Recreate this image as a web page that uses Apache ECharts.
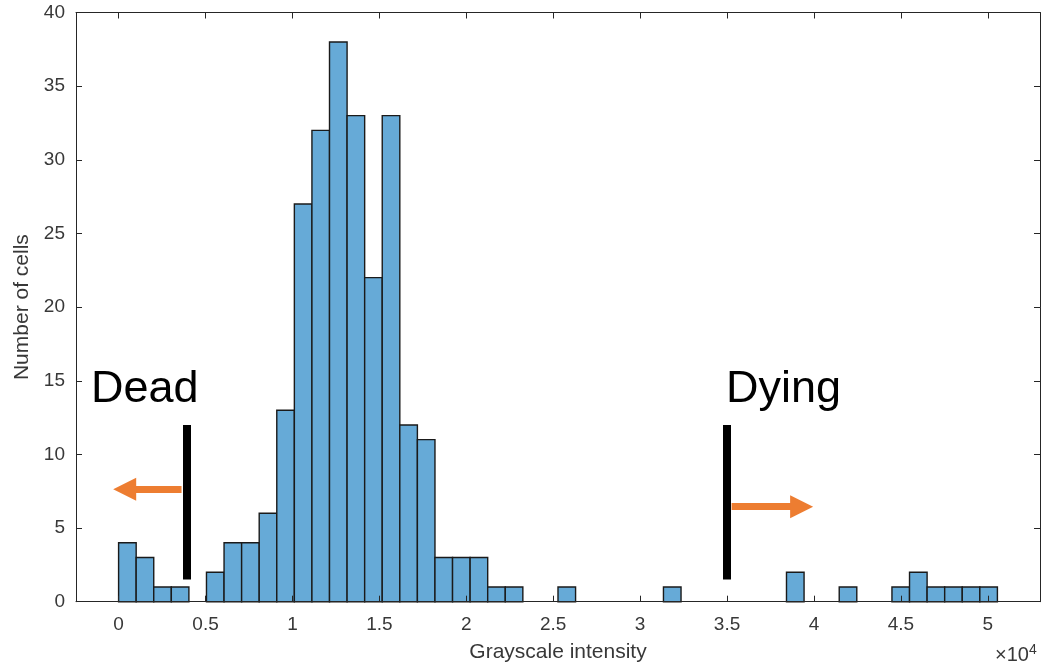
<!DOCTYPE html>
<html>
<head>
<meta charset="utf-8">
<script src="https://cdn.jsdelivr.net/npm/echarts@6/dist/echarts.min.js"></script>
<style>
  html, body { margin: 0; padding: 0; background: #fff; }
  #chart { width: 1044px; height: 671px; }
</style>
</head>
<body>
<div id="chart"></div>
<script>
// histogram data (bin counts, equal width bins starting at 0)
const binStart = 0
const binWidth = 1011
const counts = [
  4, 3, 1, 1, 0, 2, 4, 4, 6, 13,
  27, 32, 38, 33, 22, 33, 12, 11, 3, 3,
  3, 1, 1, 0, 0, 1, 0, 0, 0, 0,
  0, 1, 0, 0, 0, 0, 0, 0, 2, 0,
  0, 1, 0, 0, 1, 2, 1, 1, 1, 1
]
const xTicks = [0, 5000, 10000, 15000, 20000, 25000, 30000, 35000, 40000, 45000, 50000]
const yTicks = [0, 5, 10, 15, 20, 25, 30, 35, 40]

// threshold annotations
const deadX = 3930
const dyingX = 35000
const markerY = [1.5, 12]
const deadArrow = [[3620, 7.63], [350, 7.63]]
const dyingArrow = [[35260, 6.45], [39290, 6.45]]

const chart = echarts.init(document.getElementById('chart'))

const bins = []
counts.forEach((c, i) => {
  if (c > 0) bins.push([binStart + i * binWidth, binStart + (i + 1) * binWidth, c])
})

const axisColor = '#262626'
const labelColor = '#383838'
const font = 'Liberation Sans, Arial, Helvetica, sans-serif'

const tickStyle = { show: true, inside: true, length: 6, lineStyle: { color: axisColor, width: 1 } }

const option = {
  animation: false,
  grid: { left: 76, right: 4, top: 12.5, bottom: 69.3, containLabel: false },
  xAxis: [
    {
      type: 'value', min: -2450, max: 53000, z: 5,
      name: 'Grayscale intensity', nameLocation: 'middle', nameGap: 40,
      nameTextStyle: { color: labelColor, fontSize: 21, fontFamily: font },
      axisLine: { show: true, onZero: false, lineStyle: { color: axisColor, width: 1 } },
      axisTick: Object.assign({ customValues: xTicks }, tickStyle),
      axisLabel: {
        customValues: xTicks, margin: 14, color: labelColor, fontSize: 19, fontFamily: font,
        formatter: v => String(v / 10000)
      },
      splitLine: { show: false }
    },
    {
      type: 'value', min: -2450, max: 53000, position: 'top', z: 5,
      axisLine: { show: true, onZero: false, lineStyle: { color: axisColor, width: 1 } },
      axisTick: Object.assign({ customValues: xTicks }, tickStyle),
      axisLabel: { show: false },
      splitLine: { show: false }
    }
  ],
  yAxis: [
    {
      type: 'value', min: 0, max: 40, interval: 5, z: 5,
      name: 'Number of cells', nameLocation: 'middle', nameGap: 39,
      nameTextStyle: { color: labelColor, fontSize: 21, fontFamily: font },
      axisLine: { show: true, onZero: false, lineStyle: { color: axisColor, width: 1 } },
      axisTick: tickStyle,
      axisLabel: { margin: 11, color: labelColor, fontSize: 19, fontFamily: font },
      splitLine: { show: false }
    },
    {
      type: 'value', min: 0, max: 40, interval: 5, position: 'right', z: 5,
      axisLine: { show: true, onZero: false, lineStyle: { color: axisColor, width: 1 } },
      axisTick: tickStyle,
      axisLabel: { show: false },
      splitLine: { show: false }
    }
  ],
  series: [
    {
      type: 'custom',
      data: bins,
      encode: { x: [0, 1], y: 2 },
      renderItem: (params, api) => {
        const p0 = api.coord([api.value(0), api.value(2)])
        const p1 = api.coord([api.value(1), 0])
        return {
          type: 'rect',
          shape: { x: p0[0], y: p0[1], width: p1[0] - p0[0], height: p1[1] - p0[1] },
          style: { fill: '#66AAD7', stroke: '#1a1a1a', lineWidth: 1.4 }
        }
      }
    },
    {
      type: 'line',
      data: [],
      z: 6,
      markLine: {
        silent: true,
        animation: false,
        label: { show: false },
        emphasis: { disabled: true },
        data: [
          [{ coord: [deadX, markerY[0]], symbol: 'none', lineStyle: { color: '#000', width: 8, type: 'solid' } },
           { coord: [deadX, markerY[1]], symbol: 'none' }],
          [{ coord: [dyingX, markerY[0]], symbol: 'none', lineStyle: { color: '#000', width: 8, type: 'solid' } },
           { coord: [dyingX, markerY[1]], symbol: 'none' }],
          [{ coord: deadArrow[0], symbol: 'none', lineStyle: { color: '#ED7D31', width: 7, type: 'solid' } },
           { coord: deadArrow[1], symbol: 'triangle', symbolSize: [23, 23] }],
          [{ coord: dyingArrow[0], symbol: 'none', lineStyle: { color: '#ED7D31', width: 7, type: 'solid' } },
           { coord: dyingArrow[1], symbol: 'triangle', symbolSize: [23, 23] }]
        ]
      }
    }
  ],
  graphic: [
    { type: 'text', left: 91, top: 367, style: { text: 'Dead', fontSize: 45, fontFamily: font, fill: '#000' } },
    { type: 'text', left: 726, top: 367, style: { text: 'Dying', fontSize: 45, fontFamily: font, fill: '#000' } },
    {
      type: 'text', left: 995, top: 643,
      style: {
        text: '{a|×10}{b|4}',
        rich: {
          a: { fontSize: 20, fontFamily: font, fill: labelColor },
          b: { fontSize: 14, fontFamily: font, fill: labelColor, verticalAlign: 'top', padding: [0, 0, 10, 0] }
        }
      }
    }
  ]
}

chart.setOption(option)
</script>
</body>
</html>
